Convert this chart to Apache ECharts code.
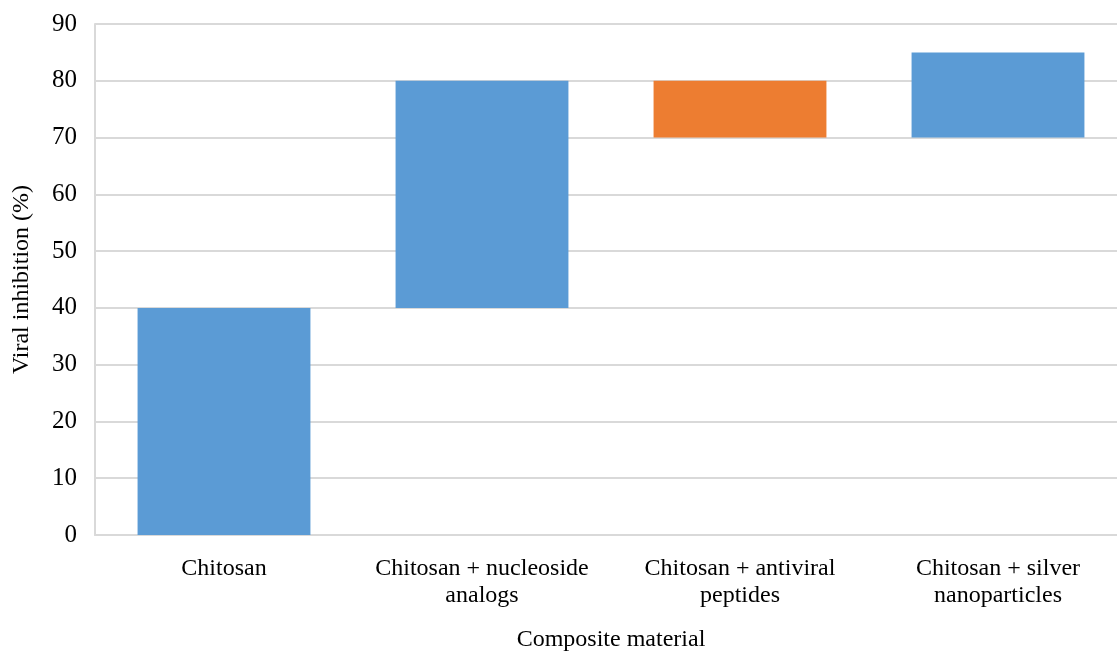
<!DOCTYPE html>
<html>
<head>
<meta charset="utf-8">
<script src="https://cdn.jsdelivr.net/npm/echarts@6/dist/echarts.min.js"></script>
<style>html,body{margin:0;padding:0;background:#fff}#c{width:1117px;height:651px}</style>
</head>
<body>
<div id="c"></div>
<script>
var categories = ['Chitosan', 'Chitosan + nucleoside\nanalogs', 'Chitosan + antiviral\npeptides', 'Chitosan + silver\nnanoparticles'];
var startValues = [0, 40, 80, 70];
var endValues = [40, 80, 70, 85];
var yTicks = [0, 10, 20, 30, 40, 50, 60, 70, 80, 90];

var base = [], up = [], down = [];
for (var i = 0; i < categories.length; i++) {
  var s = startValues[i], e = endValues[i];
  base.push(Math.min(s, e));
  if (e >= s) { up.push(e - s); down.push('-'); }
  else { up.push('-'); down.push(s - e); }
}
var font = 'Liberation Serif';
var chart = echarts.init(document.getElementById('c'));
chart.setOption({
  animation: false,
  grid: { left: 95, right: -10, top: 24, bottom: 116, containLabel: false, outerBoundsMode: 'none' },
  xAxis: {
    type: 'category', data: categories,
    name: 'Composite material', nameLocation: 'middle', nameGap: 93,
    nameTextStyle: { fontFamily: font, fontSize: 24, color: '#000' },
    axisLine: { lineStyle: { color: '#d9d9d9', width: 2 } },
    axisTick: { show: false },
    axisLabel: { fontFamily: font, fontSize: 24, color: '#000', margin: 20, lineHeight: 27, interval: 0 }
  },
  yAxis: {
    type: 'value', min: yTicks[0], max: yTicks[yTicks.length - 1], interval: 10,
    name: 'Viral inhibition (%)', nameLocation: 'middle', nameGap: 61,
    nameTextStyle: { fontFamily: font, fontSize: 24, color: '#000' },
    axisLine: { show: true, lineStyle: { color: '#d9d9d9', width: 2 } },
    axisTick: { show: false },
    splitLine: { lineStyle: { color: '#d9d9d9', width: 2 } },
    axisLabel: { fontFamily: font, fontSize: 25, color: '#000', margin: 18 }
  },
  series: [
    { type: 'bar', stack: 'w', data: base, itemStyle: { color: 'transparent' }, barCategoryGap: '33%' },
    { type: 'bar', stack: 'w', data: up, itemStyle: { color: '#5b9bd5' } },
    { type: 'bar', stack: 'w', data: down, itemStyle: { color: '#ed7d31' } }
  ]
});
</script>
</body>
</html>
